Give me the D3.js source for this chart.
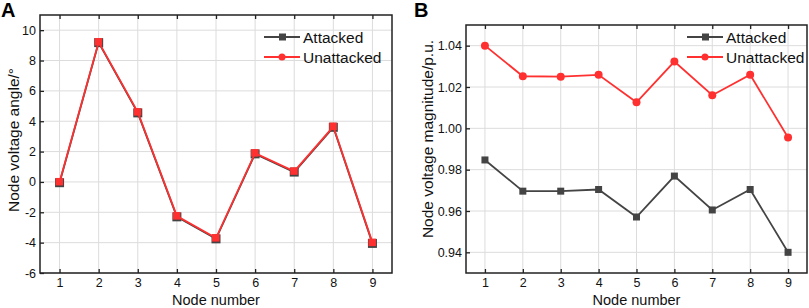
<!DOCTYPE html>
<html>
<head>
<meta charset="utf-8">
<script src="https://cdn.jsdelivr.net/npm/d3@7"></script>
<style>
  body { margin: 0; background: #fff; }
  svg { font-family: "Liberation Sans", Arial, sans-serif; }
</style>
</head>
<body>
<svg id="chart" width="809" height="308"></svg>
<script>
// data
const nodes = [1, 2, 3, 4, 5, 6, 7, 8, 9];
const angleAttacked   = [-0.05, 9.18, 4.55, -2.3, -3.75, 1.85, 0.65, 3.6, -4.05];
const angleUnattacked = [0, 9.22, 4.6, -2.25, -3.7, 1.9, 0.7, 3.65, -4.0];
const magAttacked   = [0.9847, 0.9696, 0.9696, 0.9704, 0.9571, 0.9769, 0.9605, 0.9704, 0.9400];
const magUnattacked = [1.0400, 1.0252, 1.0250, 1.0259, 1.0126, 1.0323, 1.0160, 1.0259, 0.9956];
const angleTicks = [-6, -4, -2, 0, 2, 4, 6, 8, 10];
const magTicks = [0.94, 0.96, 0.98, 1.00, 1.02, 1.04];
const seriesNames = ['Attacked', 'Unattacked'];

const gray = '#444';
const red = '#ff3030';
const svg = d3.select('#chart');

function panel(opt) {
  const x = d3.scaleLinear().domain([0.5, 9.5]).range([opt.left, opt.right]);
  const y = d3.scaleLinear().domain(opt.yDomain).range([opt.bottom, opt.top]);
  const g = svg.append('g');

  // grid
  g.append('g').selectAll('line').data(nodes).join('line')
    .attr('x1', d => x(d)).attr('x2', d => x(d))
    .attr('y1', opt.top).attr('y2', opt.bottom)
    .attr('stroke', '#dcdcdc').attr('stroke-width', 1);
  g.append('g').selectAll('line').data(opt.yTicks).join('line')
    .attr('x1', opt.left).attr('x2', opt.right)
    .attr('y1', d => y(d)).attr('y2', d => y(d))
    .attr('stroke', '#dcdcdc').attr('stroke-width', 1);

  // axes
  const xAxis = g.append('g')
    .attr('transform', `translate(0, ${opt.bottom})`)
    .call(d3.axisBottom(x).tickValues(nodes).tickSizeInner(-4).tickSizeOuter(0).tickPadding(5));
  const xTop = g.append('g')
    .attr('transform', `translate(0, ${opt.top})`)
    .call(d3.axisTop(x).tickValues(nodes).tickSizeInner(-4).tickSizeOuter(0).tickFormat(''));
  const yAxis = g.append('g')
    .attr('transform', `translate(${opt.left}, 0)`)
    .call(d3.axisLeft(y).tickValues(opt.yTicks).tickFormat(opt.fmt).tickSizeInner(-4).tickSizeOuter(0).tickPadding(4));
  [xAxis, xTop, yAxis].forEach(a => {
    a.select('.domain').remove();
    a.selectAll('line').attr('stroke', '#222').attr('stroke-width', 1.3);
    a.selectAll('text').attr('font-size', 12.5).attr('fill', '#111')
      .attr('font-family', '"Liberation Sans", Arial, sans-serif');
  });

  // frame
  g.append('rect')
    .attr('x', opt.left).attr('y', opt.top)
    .attr('width', opt.right - opt.left).attr('height', opt.bottom - opt.top)
    .attr('fill', 'none').attr('stroke', '#222').attr('stroke-width', 1.5);

  const line = d3.line().x((d, i) => x(nodes[i])).y(d => y(d));

  // attacked (gray, squares)
  g.append('path').datum(opt.attacked)
    .attr('d', line).attr('fill', 'none').attr('stroke', gray).attr('stroke-width', 1.8);
  // unattacked (red)
  if (opt.squaresBoth) {
    g.append('g').selectAll('rect').data(opt.attacked).join('rect')
      .attr('x', (d, i) => x(nodes[i]) - 4.5).attr('y', d => y(d) - 4.5)
      .attr('width', 9).attr('height', 9).attr('fill', gray);
    g.append('path').datum(opt.unattacked)
      .attr('d', line).attr('fill', 'none').attr('stroke', red).attr('stroke-width', 1.8);
    g.append('g').selectAll('rect').data(opt.unattacked).join('rect')
      .attr('x', (d, i) => x(nodes[i]) - 4).attr('y', d => y(d) - 4)
      .attr('width', 7.5).attr('height', 7.5).attr('fill', red);
  } else {
    g.append('g').selectAll('rect').data(opt.attacked).join('rect')
      .attr('x', (d, i) => x(nodes[i]) - 3.5).attr('y', d => y(d) - 3.5)
      .attr('width', 7).attr('height', 7).attr('fill', gray);
    g.append('path').datum(opt.unattacked)
      .attr('d', line).attr('fill', 'none').attr('stroke', red).attr('stroke-width', 1.8);
    g.append('g').selectAll('circle').data(opt.unattacked).join('circle')
      .attr('cx', (d, i) => x(nodes[i])).attr('cy', d => y(d))
      .attr('r', 4).attr('fill', red);
  }

  // legend
  const leg = g.append('g').attr('transform', `translate(${opt.legX}, ${opt.legY})`);
  seriesNames.forEach((name, i) => {
    const c = i === 0 ? gray : red;
    const row = leg.append('g').attr('transform', `translate(0, ${i * 20})`);
    row.append('line').attr('x1', 0).attr('x2', 36).attr('y1', 0).attr('y2', 0)
      .attr('stroke', c).attr('stroke-width', 1.8);
    if (i === 0) {
      row.append('rect').attr('x', 15).attr('y', -3.5).attr('width', 7).attr('height', 7).attr('fill', c);
    } else {
      row.append('circle').attr('cx', 18).attr('cy', 0).attr('r', 3.5).attr('fill', c);
    }
    row.append('text').attr('x', 39).attr('y', 5.5).attr('font-size', 15.5).attr('fill', '#111')
      .text(name);
  });

  // titles
  g.append('text')
    .attr('x', (opt.left + opt.right) / 2).attr('y', 304.5)
    .attr('text-anchor', 'middle').attr('font-size', 14.5).attr('fill', '#111')
    .text('Node number');
  g.append('text')
    .attr('transform', `translate(${opt.yTitleX}, ${opt.yTitleY}) rotate(-90)`)
    .attr('text-anchor', 'middle').attr('font-size', 15.5).attr('fill', '#111')
    .text(opt.yTitle);
  g.append('text')
    .attr('x', opt.labelX).attr('y', 17)
    .attr('font-size', 20).attr('font-weight', 'bold').attr('fill', '#000')
    .text(opt.label);
}

panel({
  left: 40, right: 392, top: 15, bottom: 273,
  yDomain: [-6, 11], yTicks: angleTicks, fmt: d => String(d),
  attacked: angleAttacked, unattacked: angleUnattacked, squaresBoth: true,
  legX: 264, legY: 37,
  yTitle: 'Node voltage angle/°', yTitleX: 19, yTitleY: 140,
  label: 'A', labelX: 1
});

panel({
  left: 466, right: 807, top: 25, bottom: 273,
  yDomain: [0.93, 1.05], yTicks: magTicks, fmt: d3.format('.2f'),
  attacked: magAttacked, unattacked: magUnattacked, squaresBoth: false,
  legX: 687, legY: 37,
  yTitle: 'Node voltage magnitude/p.u.', yTitleX: 433, yTitleY: 139,
  label: 'B', labelX: 414
});
</script>
</body>
</html>
